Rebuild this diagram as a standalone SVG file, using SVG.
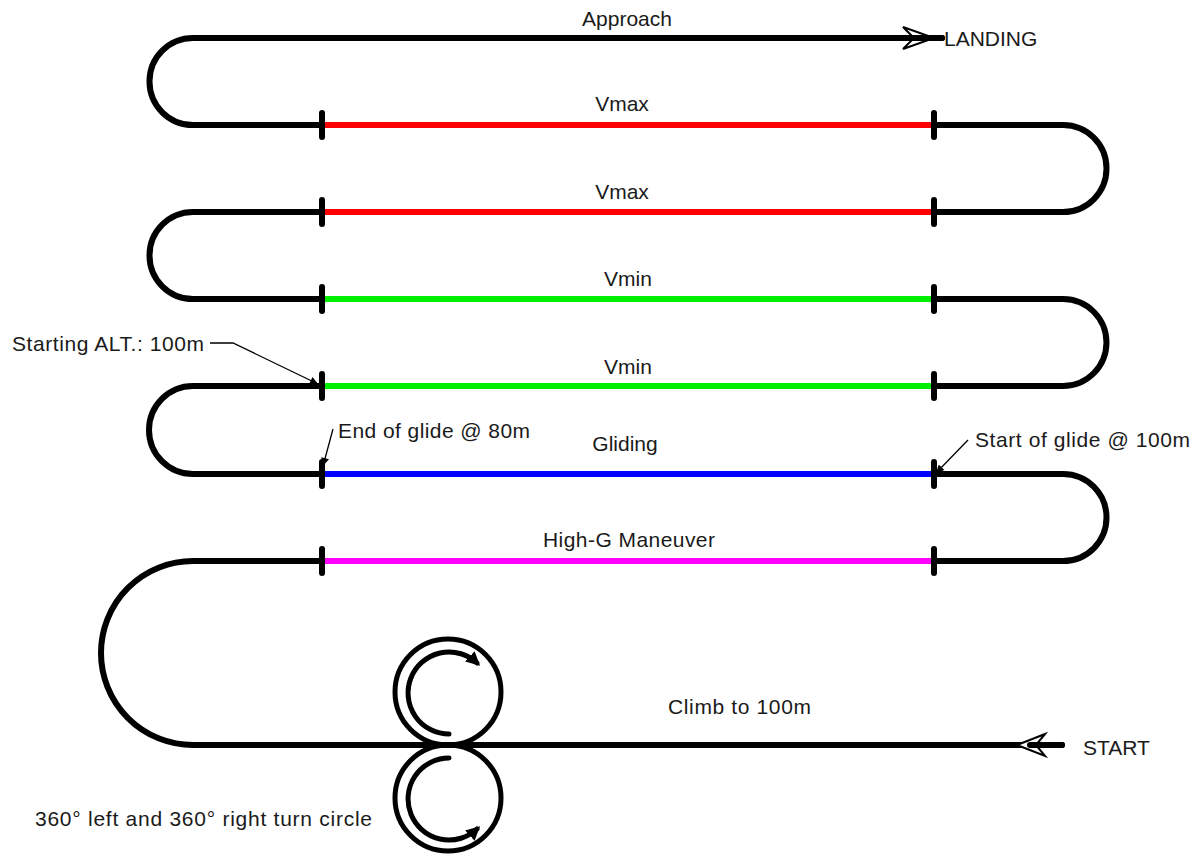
<svg xmlns="http://www.w3.org/2000/svg" width="1200" height="855" viewBox="0 0 1200 855">
<style>
.path{fill:none;stroke:#000;stroke-width:6;stroke-linecap:round;stroke-linejoin:round}
.seg{fill:none;stroke-width:6;stroke-linecap:round}
.tick{stroke:#000;stroke-width:6;stroke-linecap:round}
.circ{fill:none;stroke:#000;stroke-width:5}
.turn{fill:none;stroke:#000;stroke-width:5;stroke-linecap:round}
.lead{fill:none;stroke:#000;stroke-width:1.3}
.head{fill:#fff;stroke:#000;stroke-width:2;stroke-linejoin:miter}
text{font-family:"Liberation Sans",Arial,sans-serif;font-size:21px;fill:#1a1a1a}
.c{text-anchor:middle}
</style>
<defs>
<marker id="tri" viewBox="0 0 10 10" refX="7" refY="5" markerWidth="14" markerHeight="14" markerUnits="userSpaceOnUse" orient="auto">
<path d="M0,0 L10,5 L0,10 z" fill="#000"/>
</marker>
<marker id="sm" viewBox="0 0 10 10" refX="10" refY="5" markerWidth="11" markerHeight="8" markerUnits="userSpaceOnUse" orient="auto">
<path d="M0,0 L10,5 L0,10 z" fill="#000"/>
</marker>
</defs>
<g id="connectors">
<path class="path" d="M942,38 H193 A43.5,43.5 0 0 0 193,125 H1063 A43.5,43.5 0 0 1 1063,212 H193 A43.5,43.5 0 0 0 193,299 H1063 A43.5,43.5 0 0 1 1063,386 H193 A44,44 0 0 0 193,474 H1063 A43.5,43.5 0 0 1 1063,561 H193 A92,92 0 0 0 193,745 H1062"/>
<line class="seg" x1="322" y1="125" x2="934" y2="125" stroke="#ff0000"/>
<line class="seg" x1="322" y1="212" x2="934" y2="212" stroke="#ff0000"/>
<line class="seg" x1="322" y1="299" x2="934" y2="299" stroke="#00ee00"/>
<line class="seg" x1="322" y1="386" x2="934" y2="386" stroke="#00ee00"/>
<line class="seg" x1="322" y1="474" x2="934" y2="474" stroke="#0000ff"/>
<line class="seg" x1="322" y1="561" x2="934" y2="561" stroke="#ff00ff"/>
<g id="ticks">
<line class="tick" x1="322" y1="113" x2="322" y2="137"/><line class="tick" x1="934" y1="113" x2="934" y2="137"/>
<line class="tick" x1="322" y1="200" x2="322" y2="224"/><line class="tick" x1="934" y1="200" x2="934" y2="224"/>
<line class="tick" x1="322" y1="287" x2="322" y2="311"/><line class="tick" x1="934" y1="287" x2="934" y2="311"/>
<line class="tick" x1="322" y1="374" x2="322" y2="398"/><line class="tick" x1="934" y1="374" x2="934" y2="398"/>
<line class="tick" x1="322" y1="462" x2="322" y2="486"/><line class="tick" x1="934" y1="462" x2="934" y2="486"/>
<line class="tick" x1="322" y1="549" x2="322" y2="573"/><line class="tick" x1="934" y1="549" x2="934" y2="573"/>
</g>
<polygon class="head" points="903,27 934,38 903,49 914,38"/>
<line x1="890" y1="38" x2="942" y2="38" stroke="#000" stroke-width="6" stroke-linecap="round"/>
<polygon class="head" points="1045,734 1017,745 1045,756 1036,745"/>
<line x1="1030" y1="745" x2="1062" y2="745" stroke="#000" stroke-width="6" stroke-linecap="round"/>
<polyline class="lead" points="210,343 233,343 318,384" marker-end="url(#sm)"/>
<line class="lead" x1="333" y1="429" x2="323" y2="466" marker-end="url(#sm)"/>
<line class="lead" x1="968" y1="440" x2="936" y2="473" marker-end="url(#sm)"/>
</g>
<g id="turn-circles">
<circle class="circ" cx="448" cy="692" r="53"/>
<circle class="circ" cx="448" cy="798" r="53"/>
<path class="turn" d="M449,734 A41,41 0 1 1 477,663" marker-end="url(#tri)"/>
<path class="turn" d="M449,758 A41,41 0 1 0 477,829" marker-end="url(#tri)"/>
</g>
<g id="labels">
<text class="c" x="627" y="26">Approach</text>
<text x="944" y="46">LANDING</text>
<text class="c" x="622" y="111">Vmax</text>
<text class="c" x="622" y="199">Vmax</text>
<text class="c" x="628" y="286">Vmin</text>
<text class="c" x="628" y="374">Vmin</text>
<text class="c" x="625" y="451">Gliding</text>
<text x="543" y="547" textLength="172">High-G Maneuver</text>
<text x="668" y="714" textLength="143">Climb to 100m</text>
<text x="1083" y="755">START</text>
<text x="12" y="351" textLength="192">Starting ALT.: 100m</text>
<text x="338" y="438" textLength="192">End of glide @ 80m</text>
<text x="975" y="447" textLength="215">Start of glide @ 100m</text>
<text x="35" y="826" textLength="337">360° left and 360° right turn circle</text>
</g>
</svg>
